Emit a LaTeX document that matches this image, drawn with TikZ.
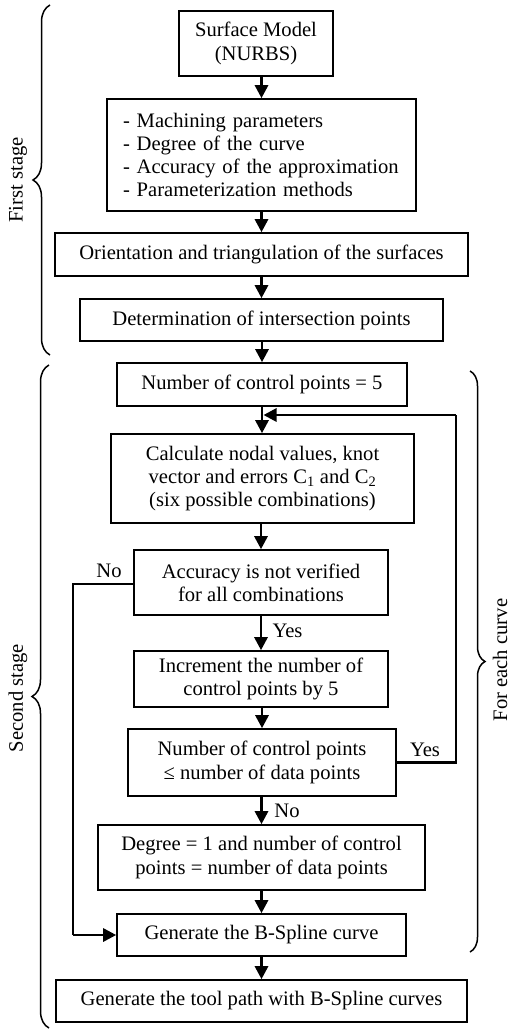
\documentclass[tikz,border=0pt]{standalone}
\usepackage{fontspec}
\setmainfont{Liberation Serif}
\usetikzlibrary{arrows.meta,decorations.pathreplacing,calc}
\begin{document}
\begin{tikzpicture}[x=1pt,y=-1pt,
  box/.style={draw,line width=1.6pt,inner sep=0pt,align=center,font=\fontsize{20.6}{23.3}\selectfont},
  lbl/.style={inner sep=0pt,font=\fontsize{20.6}{23.3}\selectfont},
  arr/.style={line width=2.8pt,-{Triangle[length=13pt,width=13pt]}},
  lin/.style={line width=2.8pt},
  brace/.style={line width=1.5pt,decorate,decoration={brace,amplitude=#1}}]
\useasboundingbox (0,0) rectangle (510,1030);
\node[box,minimum width=154,minimum height=65] (b1) at (256,43.5) {Surface Model\\(NURBS)};
\node[box,minimum width=309,minimum height=112,text width=277,align=left] (b2) at (261.5,155) {- Machining parameters\\- Degree of the curve\\- Accuracy of the approximation\\- Parameterization methods};
\node[box,minimum width=413,minimum height=43] (b3) at (261.5,254.5) {Orientation and triangulation of the surfaces};
\node[box,minimum width=363,minimum height=42] (b4) at (261.5,320) {Determination of intersection points};
\node[box,minimum width=290,minimum height=43] (b5) at (262,384.5) {Number of control points = 5};
\node[box,minimum width=303,minimum height=89] (b6) at (262.5,478.5) {Calculate nodal values, knot\\vector and errors C\textsubscript{1} and C\textsubscript{2}\\(six possible combinations)};
\node[box,minimum width=254,minimum height=65] (b7) at (261,582.5) {Accuracy is not verified\\for all combinations};
\node[box,minimum width=254,minimum height=56] (b8) at (261,679) {Increment the number of\\control points by 5};
\node[box,minimum width=268,minimum height=67] (b9) at (262,762.5) {Number of control points\\≤ number of data points};
\node[box,minimum width=327,minimum height=65] (b10) at (261.5,857.5) {Degree = 1 and number of control\\points = number of data points};
\node[box,minimum width=289,minimum height=42] (b11) at (261.5,935) {Generate the B-Spline curve};
\node[box,minimum width=411,minimum height=42] (b12) at (261.5,1001) {Generate the tool path with B-Spline curves};
% labels
\node[lbl] (no1) at (109,571) {No};
\node[lbl] (yes1) at (287.5,631) {Yes};
\node[lbl] (yes2) at (425,750) {Yes};
\node[lbl] (no2) at (287,811) {No};
\node[lbl,rotate=90] (s1) at (18,180) {First stage};
\node[lbl,rotate=90] (s2) at (18,698) {Second stage};
\node[lbl,rotate=90] (s3) at (500,660) {For each curve};
% arrows
\draw[arr] (b1.south -| b2.north) -- (b2.north);
\draw[arr] (b2.south) -- (b3.north -| b2.south);
\draw[arr] (b3.south -| b4.north) -- (b4.north);
\draw[arr] (b4.south -| b5.north) -- (b5.north);
\draw[arr] (b5.south) -- (b6.north -| b5.south);
\draw[arr] (b6.south -| b7.north) -- (b7.north);
\draw[arr] (b7.south) -- (b8.north);
\draw[arr] (b8.south -| b9.north) -- (b9.north);
\draw[arr] (b9.south -| b10.north) -- (b10.north);
\draw[arr] (b10.south -| b11.north) -- (b11.north);
\draw[arr] (b11.south) -- (b12.north);
% loop back
\coordinate (j) at (263.5,415);
\coordinate (r) at (456,415);
\draw[lin] (b9.east) -- (b9.east -| r) -- (r);
\draw[arr] (r) -- (j);
% No branch
\coordinate (l) at (73,584);
\draw[lin] (b7.west |- l) -- (l) -- (l |- b11.west);
\draw[arr] (l |- b11.west) -- (b11.west);
% braces
\coordinate (f1a) at (50,355);
\coordinate (f1b) at (50,5);
\coordinate (f2a) at (49,1028);
\coordinate (f2b) at (49,365);
\coordinate (f3a) at (470,371);
\coordinate (f3b) at (470,952);
\draw[brace=17pt] (f1a) -- (f1b);
\draw[brace=17pt] (f2a) -- (f2b);
\draw[brace=15pt] (f3a) -- (f3b);
\end{tikzpicture}
\end{document}
